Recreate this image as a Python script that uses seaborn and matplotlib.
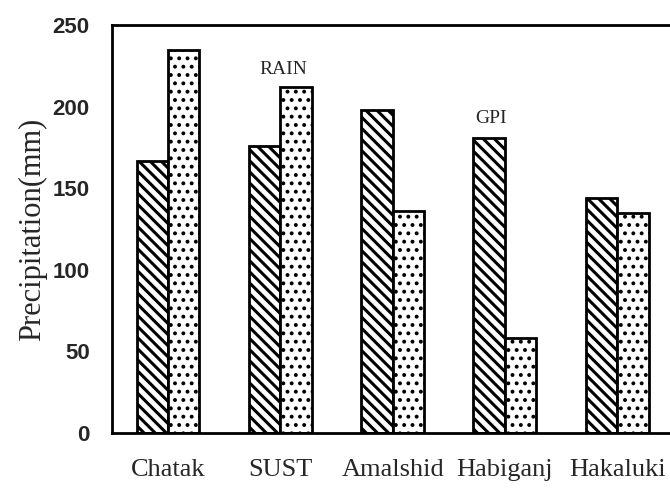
import matplotlib
matplotlib.use("Agg")
import matplotlib.pyplot as plt
import seaborn as sns
import pandas as pd

sites = ["Chatak", "SUST", "Amalshid", "Habiganj", "Hakaluki"]
gpi = [167, 176, 198, 181, 144]
rain = [235, 212, 136, 58, 135]
yticks = [0, 50, 100, 150, 200, 250]

df = pd.DataFrame({
    "site": sites * 2,
    "series": ["GPI"] * len(sites) + ["RAIN"] * len(sites),
    "value": gpi + rain,
})

sns.set_style("white")
plt.rcParams["hatch.linewidth"] = 2.0
plt.rcParams["font.family"] = ["Liberation Serif", "DejaVu Serif"]

fig = plt.figure(figsize=(6.7, 4.94), dpi=100)
ax = fig.add_axes([0.167, 0.1235, 0.838, 0.8255])

sns.barplot(data=df, x="site", y="value", hue="series", order=sites,
            hue_order=["GPI", "RAIN"], palette=["white", "white"],
            width=0.56, gap=0, edgecolor="black", linewidth=2.0,
            legend=False, ax=ax)

hatches = ["\\\\\\", ".."]
hlw = [2.2, 1.6]
for cont, h, lw in zip(ax.containers, hatches, hlw):
    for p in cont:
        p.set_hatch(h)
        p.set_edgecolor("black")
        p.set_facecolor("white")
        if hasattr(p, "set_hatch_linewidth"):
            p.set_hatch_linewidth(lw)

ax.set_xlim(-0.5, 4.5)
ax.set_ylim(0, 250)
ax.set_yticks(yticks)
ax.set_yticklabels([str(t) for t in yticks],
                   family=["Liberation Sans", "DejaVu Sans"],
                   fontweight="bold", fontsize=16)
ax.set_xticks(range(len(sites)))
ax.set_xticklabels(sites, fontsize=19)
ax.set_xticks([-0.5, 0.5, 1.5, 2.5, 3.5], minor=True)
ax.tick_params(axis="x", which="major", length=0, pad=19)
ax.tick_params(axis="x", which="minor", length=6, width=1.5, direction="out", color="black")
ax.tick_params(axis="y", length=7, width=1.5, direction="out", color="black", pad=9)

ax.set_xlabel("")
ax.set_ylabel("Precipitation(mm)", fontsize=22, labelpad=4)

for s in ["top", "left", "bottom"]:
    ax.spines[s].set_visible(True)
    ax.spines[s].set_color("black")
    ax.spines[s].set_linewidth(2)
ax.spines["right"].set_visible(False)

ax.text(1.03, 223, "RAIN", ha="center", va="center", fontsize=14)
ax.text(2.875, 193, "GPI", ha="center", va="center", fontsize=14)

fig.savefig("out.png", dpi=100)
